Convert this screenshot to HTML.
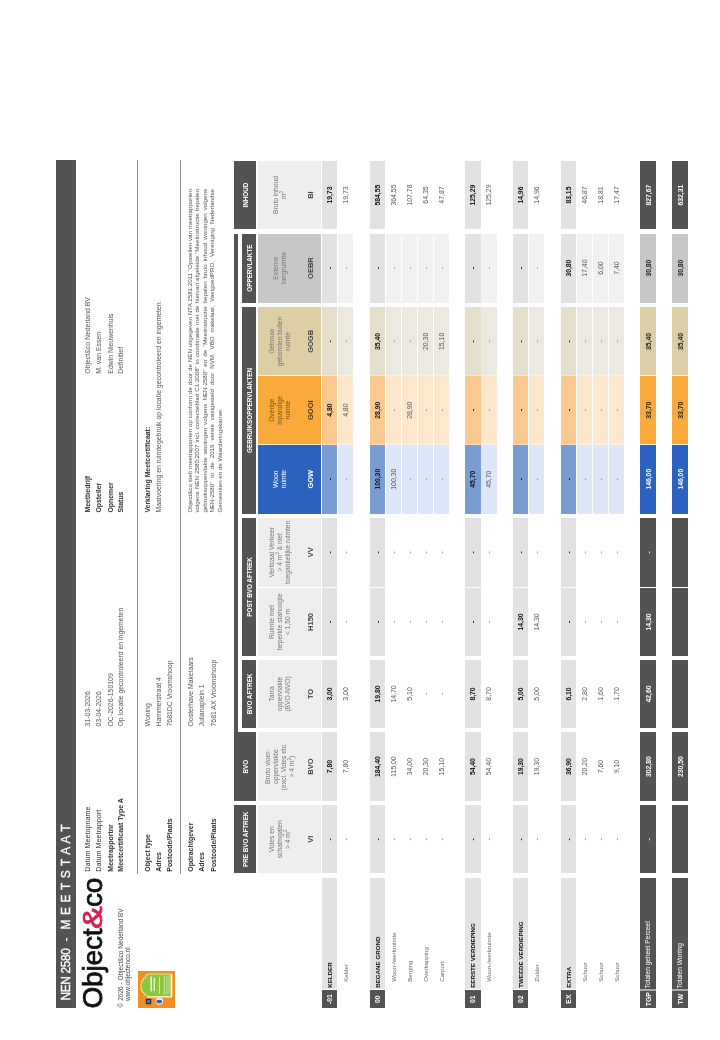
<!DOCTYPE html><html><head><meta charset="utf-8"><title>NEN 2580 - Meetstaat</title><style>
html,body{margin:0;padding:0;background:#fff;}
body{width:720px;height:1040px;overflow:hidden;position:relative;}
#page{position:absolute;left:0;top:0;width:1040px;height:720px;transform-origin:0 0;transform:translate(0,1040px) rotate(-90deg);will-change:transform;font-family:"Liberation Sans", Arial, sans-serif;color:#222;}
#page div{position:absolute;box-sizing:border-box;white-space:nowrap;}
.c{display:flex;align-items:center;justify-content:center;text-align:center;}
sup{font-size:4.5px;line-height:0;vertical-align:3px;}
.gh{color:#fff;font-weight:bold;font-size:6.3px;}
.desc{color:#777;font-size:6.7px;line-height:7.9px;white-space:normal !important;}
.code{font-weight:bold;font-size:7.5px;color:#444;}
.tv{font-weight:bold;font-size:6.8px;color:#111;}
.sv{font-size:6.9px;color:#555;}
.gv{font-weight:bold;font-size:6.8px;color:#fff;}
.lt{font-weight:bold;font-size:6.2px;color:#111;}
.ls{font-size:6.1px;color:#6a6a6a;}
.info{font-size:7px;color:#444;line-height:11px;}
.info b{color:#333;}
</style></head><body><div id="page">
<div style="left:32.00px;top:56.00px;width:848.00px;height:20.00px;background:#535353;"></div>
<div style="left:39.4px;top:56px;height:20px;line-height:21.6px;font-size:11.9px;color:#fff;-webkit-text-stroke:0.3px #fff;letter-spacing:-0.35px;">NEN 2580</div>
<div style="left:98.6px;top:56px;height:20px;line-height:21.6px;font-size:11.9px;color:#fff;-webkit-text-stroke:0.3px #fff;">-</div>
<div style="left:110.4px;top:56px;height:20px;line-height:21.6px;font-size:11.9px;color:#fff;-webkit-text-stroke:0.3px #fff;letter-spacing:0.69px;">M E E T S T A A T</div>
<div style="left:31.4px;top:76px;font-size:28px;line-height:34px;letter-spacing:-0.15px;color:#111;-webkit-text-stroke:0.75px #111;">Object<span style="display:inline-block;transform:scaleX(1.22);margin:0 1.4px 0 1.6px;color:#d3204f;-webkit-text-stroke:0.75px #d3204f;">&amp;</span>co</div>
<div style="left:32.6px;top:116.9px;font-size:6.5px;line-height:7.5px;color:#444;">&copy; 2026 - Object&amp;co Nederland BV<br><span style="padding-left:6.4px">www.objectenco.nl</span></div>
<div style="left:32.3px;top:138.0px;width:37px;height:36.7px;background:#ef9020;overflow:hidden;"><svg width="37" height="36.7" viewBox="0 0 37 36.7" style="position:absolute;left:0;top:0"><g transform="matrix(0,1,-1,0,37,0)"><path d="M9.5 2.6 L33.4 2.6 L33.4 26.2 L9.5 26.2 L8.2 24.6 L6.6 24.2 L5.6 22.2 L4.0 21.4 L3.6 19.3 L2.2 18.0 L3.2 16.0 L2.0 14.2 L3.4 12.4 L3.0 10.4 L4.6 9.4 L5.0 7.2 L6.8 6.6 L7.6 4.4 Z" fill="#fbe7a1"/><path d="M10.0 3.4 L32.4 3.4 L32.4 25.2 L10.0 25.2 L8.6 23.8 L7.0 23.2 L6.2 21.4 L4.7 20.6 L4.4 18.8 L3.2 17.8 L4.1 15.9 L3.1 14.2 L4.3 12.6 L4.0 10.8 L5.4 9.9 L5.8 7.9 L7.4 7.3 L8.3 5.2 Z" fill="#8cc63e"/><rect x="33.0" y="3" width="1.3" height="23" fill="#f4f8e8"/><rect x="9" y="25.3" width="25" height="1.2" fill="#f6f0d8"/><rect x="12.4" y="5.5" width="1.6" height="15" fill="#e4f3cc"/><rect x="15.6" y="7" width="1.4" height="13" fill="#e4f3cc"/><rect x="21.0" y="6" width="1.0" height="17" fill="#cfeaa8"/><rect x="25.8" y="4.5" width="0.9" height="19" fill="#cfeaa8"/><rect x="28.4" y="4.5" width="0.9" height="19" fill="#cfeaa8"/><rect x="30.6" y="4.5" width="0.8" height="19" fill="#cfeaa8"/><rect x="7.8" y="27.8" width="5.4" height="5.4" fill="#1f2f52"/><rect x="9.0" y="29.0" width="3.0" height="3.0" fill="#4a74b0"/><ellipse cx="21.3" cy="30.2" rx="3.9" ry="3.4" fill="#eef2f7"/><ellipse cx="21.3" cy="30.6" rx="3.0" ry="1.8" fill="#2f64a6"/></g></svg></div>
<div style="left:168.3px;top:82.30px;line-height:11px;font-size:7.2px;font-weight:normal;color:#333;">Datum Meetopname</div>
<div style="left:168.3px;top:93.00px;line-height:11px;font-size:7.2px;font-weight:normal;color:#333;">Datum Meetrapport</div>
<div style="left:168.3px;top:104.60px;line-height:11px;font-size:7.0px;font-weight:bold;color:#333;">Meetrapportnr</div>
<div style="left:168.3px;top:115.40px;line-height:11px;font-size:7.0px;font-weight:bold;color:#333;">Meetcertificaat Type A</div>
<div style="left:313.5px;top:82.30px;line-height:11px;font-size:6.9px;font-weight:normal;color:#555;">31-03-2026</div>
<div style="left:313.5px;top:93.00px;line-height:11px;font-size:6.9px;font-weight:normal;color:#555;">03-04-2026</div>
<div style="left:313.5px;top:104.60px;line-height:11px;font-size:6.9px;font-weight:normal;color:#555;">OC-2026-150109</div>
<div style="left:313.5px;top:115.40px;line-height:11px;font-size:6.9px;font-weight:normal;color:#555;">Op locatie gecontroleerd en ingemeten</div>
<div style="left:527.4px;top:82.30px;line-height:11px;font-size:6.9px;font-weight:bold;color:#333;">Meetbedrijf</div>
<div style="left:527.4px;top:93.00px;line-height:11px;font-size:6.9px;font-weight:bold;color:#333;">Opsteller</div>
<div style="left:527.4px;top:104.60px;line-height:11px;font-size:6.9px;font-weight:bold;color:#333;">Opnemer</div>
<div style="left:527.4px;top:115.40px;line-height:11px;font-size:6.9px;font-weight:bold;color:#333;">Status</div>
<div style="left:666.3px;top:82.30px;line-height:11px;font-size:6.9px;font-weight:normal;color:#555;">Object&amp;co Nederland BV</div>
<div style="left:666.3px;top:93.00px;line-height:11px;font-size:6.9px;font-weight:normal;color:#555;">M. van Essen</div>
<div style="left:666.3px;top:104.60px;line-height:11px;font-size:6.9px;font-weight:normal;color:#555;">Edwin Nieuwenhuis</div>
<div style="left:666.3px;top:115.40px;line-height:11px;font-size:6.9px;font-weight:normal;color:#555;">Definitief</div>
<div style="left:166.00px;top:136.90px;width:714.00px;height:1.00px;background:#8a8a8a;"></div>
<div style="left:168.3px;top:142.10px;line-height:11px;font-size:6.9px;font-weight:bold;color:#333;">Object type</div>
<div style="left:168.3px;top:153.00px;line-height:11px;font-size:6.9px;font-weight:bold;color:#333;">Adres</div>
<div style="left:168.3px;top:164.20px;line-height:11px;font-size:6.9px;font-weight:bold;color:#333;">Postcode/Plaats</div>
<div style="left:313.5px;top:142.10px;line-height:11px;font-size:6.9px;font-weight:normal;color:#555;">Woning</div>
<div style="left:313.5px;top:153.00px;line-height:11px;font-size:6.9px;font-weight:normal;color:#555;">Hammerstraat 4</div>
<div style="left:313.5px;top:164.20px;line-height:11px;font-size:6.9px;font-weight:normal;color:#555;">7681DC Vroomshoop</div>
<div style="left:527.4px;top:142.10px;line-height:11px;font-size:6.9px;font-weight:bold;color:#333;">Verklaring Meetcertificaat:</div>
<div style="left:527.4px;top:153.00px;line-height:11px;font-size:6.9px;font-weight:normal;color:#555;">Maatvoering en ruimtegebruik op locatie gecontroleerd en ingemeten.</div>
<div style="left:166.00px;top:179.60px;width:714.00px;height:1.00px;background:#8a8a8a;"></div>
<div style="left:168.3px;top:184.80px;line-height:11px;font-size:6.9px;font-weight:bold;color:#333;">Opdrachtgever</div>
<div style="left:168.3px;top:196.10px;line-height:11px;font-size:6.9px;font-weight:bold;color:#333;">Adres</div>
<div style="left:168.3px;top:207.50px;line-height:11px;font-size:6.9px;font-weight:bold;color:#333;">Postcode/Plaats</div>
<div style="left:313.5px;top:184.80px;line-height:11px;font-size:6.9px;font-weight:normal;color:#555;">Oosterhave Makelaars</div>
<div style="left:313.5px;top:196.10px;line-height:11px;font-size:6.9px;font-weight:normal;color:#555;">Julianaplein 1</div>
<div style="left:313.5px;top:207.50px;line-height:11px;font-size:6.9px;font-weight:normal;color:#555;">7681 AX Vroomshoop</div>
<div style="left:527.4px;top:185.75px;width:323.6px;white-space:normal;text-align:justify;text-align-last:justify;font-size:6.18px;line-height:7.5px;color:#555;">Object&amp;co stelt meetrapporten op conform de door de NEN uitgegeven NTA 2581:2011 &ldquo;Opstellen van meetrapporten</div>
<div style="left:527.4px;top:193.25px;width:323.6px;white-space:normal;text-align:justify;text-align-last:justify;font-size:6.18px;line-height:7.5px;color:#555;">volgens NEN 2580:2007 incl. correctieblad C1:2008&rdquo; in combinatie met de hiervan afgeleide &ldquo;Meetinstructie bepalen</div>
<div style="left:527.4px;top:200.75px;width:323.6px;white-space:normal;text-align:justify;text-align-last:justify;font-size:6.18px;line-height:7.5px;color:#555;">gebruiksoppervlakte woningen volgens NEN-2580&rdquo; en de &ldquo;Meetinstructie bepalen bruto inhoud woningen volgens</div>
<div style="left:527.4px;top:208.25px;width:323.6px;white-space:normal;text-align:justify;text-align-last:justify;font-size:6.18px;line-height:7.5px;color:#555;">NEN-2580&rdquo; in de 2019 versie vastgesteld door NVM, VBO makelaar, VastgoedPRO, Vereniging Nederlandse</div>
<div style="left:527.4px;top:215.75px;width:323.6px;white-space:normal;text-align:justify;text-align-last:left;font-size:6.18px;line-height:7.5px;color:#555;">Gemeenten en de Waarderingskamer.</div>
<div style="left:239.20px;top:234.00px;width:567.30px;height:4.00px;background:#535353;"></div>
<div class="c gh" style="left:166.50px;top:234.00px;width:68.40px;height:22.00px;background:#535353;"><span>PRE BVO AFTREK</span></div>
<div class="c gh" style="left:239.20px;top:234.00px;width:68.40px;height:22.00px;background:#535353;"><span>BVO</span></div>
<div class="c gh" style="left:312.10px;top:242.00px;width:67.90px;height:14.00px;background:#535353;"><span>BVO AFTREK</span></div>
<div class="c gh" style="left:384.20px;top:242.00px;width:137.80px;height:14.00px;background:#535353;"><span>POST BVO AFTREK</span></div>
<div class="c gh" style="left:526.20px;top:242.00px;width:206.70px;height:14.00px;background:#535353;"><span>GEBRUIKSOPPERVLAKTEN</span></div>
<div class="c gh" style="left:737.30px;top:242.00px;width:69.20px;height:14.00px;background:#535353;"><span>OPPERVLAKTE</span></div>
<div class="c gh" style="left:810.70px;top:234.00px;width:68.50px;height:22.00px;background:#535353;"><span>INHOUD</span></div>
<div style="left:166.50px;top:257.60px;width:68.40px;height:63.30px;background:#eeeeee;"></div>
<div class="c desc" style="left:166.50px;top:259.70px;width:68.40px;height:40.00px;color:#777;"><span>Vides en<br>schalmgaten<br>&gt; 4 m<sup>2</sup></span></div>
<div class="c code" style="left:166.50px;top:302.60px;width:68.40px;height:16.00px;color:#444;"><span>VI</span></div>
<div style="left:239.20px;top:257.60px;width:68.40px;height:63.30px;background:#eeeeee;"></div>
<div class="c desc" style="left:239.20px;top:259.70px;width:68.40px;height:40.00px;color:#777;"><span>Bruto vloer-<br>oppervlakte<br>(excl. Vides etc.<br>&gt; 4 m<sup>2</sup>)</span></div>
<div class="c code" style="left:239.20px;top:302.60px;width:68.40px;height:16.00px;color:#444;"><span>BVO</span></div>
<div style="left:312.10px;top:257.60px;width:67.90px;height:63.30px;background:#eeeeee;"></div>
<div class="c desc" style="left:312.10px;top:259.70px;width:67.90px;height:40.00px;color:#777;"><span>Tarra<br>oppervlakte<br>(BVO-NVO)</span></div>
<div class="c code" style="left:312.10px;top:302.60px;width:67.90px;height:16.00px;color:#444;"><span>TO</span></div>
<div style="left:384.20px;top:257.60px;width:67.70px;height:63.30px;background:#eeeeee;"></div>
<div class="c desc" style="left:384.20px;top:259.70px;width:67.70px;height:40.00px;color:#777;"><span>Ruimte met<br>beperkte stahoogte<br>&lt; 1,50 m</span></div>
<div class="c code" style="left:384.20px;top:302.60px;width:67.70px;height:16.00px;color:#444;"><span>H150</span></div>
<div style="left:453.40px;top:257.60px;width:68.60px;height:63.30px;background:#eeeeee;"></div>
<div class="c desc" style="left:453.40px;top:259.70px;width:68.60px;height:40.00px;color:#777;"><span>Verticaal Verkeer<br>&gt; 4 m<sup>2</sup> &amp; niet<br>toegankelijke ruimten</span></div>
<div class="c code" style="left:453.40px;top:302.60px;width:68.60px;height:16.00px;color:#444;"><span>VV</span></div>
<div style="left:526.20px;top:257.60px;width:69.20px;height:63.30px;background:#2b62bf;"></div>
<div class="c desc" style="left:526.20px;top:259.70px;width:69.20px;height:40.00px;color:#fff;"><span>Woon<br>ruimte</span></div>
<div class="c code" style="left:526.20px;top:302.60px;width:69.20px;height:16.00px;color:#fff;"><span>GOW</span></div>
<div style="left:595.40px;top:257.60px;width:68.90px;height:63.30px;background:#faa93b;"></div>
<div class="c desc" style="left:595.40px;top:259.70px;width:68.90px;height:40.00px;color:#7d5418;"><span>Overige<br>inpandige<br>ruimte</span></div>
<div class="c code" style="left:595.40px;top:302.60px;width:68.90px;height:16.00px;color:#4a3218;"><span>GOOI</span></div>
<div style="left:664.30px;top:257.60px;width:68.60px;height:63.30px;background:#dccfa6;"></div>
<div class="c desc" style="left:664.30px;top:259.70px;width:68.60px;height:40.00px;color:#777;"><span>Gebouw<br>gebonden buiten<br>ruimte</span></div>
<div class="c code" style="left:664.30px;top:302.60px;width:68.60px;height:16.00px;color:#444;"><span>GOGB</span></div>
<div style="left:737.30px;top:257.60px;width:69.20px;height:63.30px;background:#c7c7c7;"></div>
<div class="c desc" style="left:737.30px;top:259.70px;width:69.20px;height:40.00px;color:#777;"><span>Externe<br>bergruimte</span></div>
<div class="c code" style="left:737.30px;top:302.60px;width:69.20px;height:16.00px;color:#444;"><span>OEBR</span></div>
<div style="left:810.70px;top:257.60px;width:68.50px;height:63.30px;background:#eeeeee;"></div>
<div class="c desc" style="left:810.70px;top:259.70px;width:68.50px;height:40.00px;color:#777;"><span>Bruto inhoud<br>m<sup>3</sup></span></div>
<div class="c code" style="left:810.70px;top:302.60px;width:68.50px;height:16.00px;color:#444;"><span>BI</span></div>
<div style="left:594.90px;top:257.60px;width:1.10px;height:63.30px;background:rgba(255,255,255,0.75);"></div>
<div style="left:663.80px;top:257.60px;width:1.10px;height:63.30px;background:rgba(255,255,255,0.75);"></div>
<div class="c gv" style="left:32.20px;top:322.10px;width:17.40px;height:15.30px;background:#535353;"><span>-01</span></div>
<div style="left:51.00px;top:322.10px;width:111.20px;height:15.30px;background:#e2e2e2;"></div>
<div class="lt" style="left:52.2px;top:322.10px;line-height:15.3px;">KELDER</div>
<div class="c tv" style="left:166.50px;top:322.10px;width:68.40px;height:15.30px;background:#e2e2e2;"><span>-</span></div>
<div class="c tv" style="left:239.20px;top:322.10px;width:68.40px;height:15.30px;background:#e2e2e2;"><span>7,80</span></div>
<div class="c tv" style="left:312.10px;top:322.10px;width:67.90px;height:15.30px;background:#e2e2e2;"><span>3,00</span></div>
<div class="c tv" style="left:384.20px;top:322.10px;width:67.70px;height:15.30px;background:#e2e2e2;"><span>-</span></div>
<div class="c tv" style="left:453.40px;top:322.10px;width:68.60px;height:15.30px;background:#e2e2e2;"><span>-</span></div>
<div class="c tv" style="left:526.20px;top:322.10px;width:69.20px;height:15.30px;background:#7b9cd3;"><span>-</span></div>
<div class="c tv" style="left:595.40px;top:322.10px;width:68.90px;height:15.30px;background:#f9c98f;"><span>4,80</span></div>
<div style="left:595.10px;top:322.10px;width:0.60px;height:15.30px;background:rgba(255,255,255,0.35);"></div>
<div class="c tv" style="left:664.30px;top:322.10px;width:68.60px;height:15.30px;background:#e6dfcb;"><span>-</span></div>
<div style="left:664.00px;top:322.10px;width:0.60px;height:15.30px;background:rgba(255,255,255,0.35);"></div>
<div class="c tv" style="left:737.30px;top:322.10px;width:69.20px;height:15.30px;background:#e2e2e2;"><span>-</span></div>
<div class="c tv" style="left:810.70px;top:322.10px;width:68.50px;height:15.30px;background:#e2e2e2;"><span>19,73</span></div>
<div class="ls" style="left:58.3px;top:338.01px;line-height:15.3px;">Kelder</div>
<div class="c sv" style="left:166.50px;top:338.01px;width:68.40px;height:15.30px;"><span>-</span></div>
<div class="c sv" style="left:239.20px;top:338.01px;width:68.40px;height:15.30px;"><span>7,80</span></div>
<div class="c sv" style="left:312.10px;top:338.01px;width:67.90px;height:15.30px;"><span>3,00</span></div>
<div class="c sv" style="left:384.20px;top:338.01px;width:67.70px;height:15.30px;"><span>-</span></div>
<div class="c sv" style="left:453.40px;top:338.01px;width:68.60px;height:15.30px;"><span>-</span></div>
<div class="c sv" style="left:526.20px;top:338.01px;width:69.20px;height:15.30px;background:#dde7f7;"><span>-</span></div>
<div class="c sv" style="left:595.40px;top:338.01px;width:68.90px;height:15.30px;background:#fde8cd;"><span>4,80</span></div>
<div style="left:595.10px;top:338.01px;width:0.60px;height:15.30px;background:rgba(255,255,255,0.35);"></div>
<div class="c sv" style="left:664.30px;top:338.01px;width:68.60px;height:15.30px;background:#ece9e1;"><span>-</span></div>
<div style="left:664.00px;top:338.01px;width:0.60px;height:15.30px;background:rgba(255,255,255,0.35);"></div>
<div class="c sv" style="left:737.30px;top:338.01px;width:69.20px;height:15.30px;background:#f1f1f1;"><span>-</span></div>
<div class="c sv" style="left:810.70px;top:338.01px;width:68.50px;height:15.30px;"><span>19,73</span></div>
<div class="c gv" style="left:32.20px;top:369.84px;width:17.40px;height:15.30px;background:#535353;"><span>00</span></div>
<div style="left:51.00px;top:369.84px;width:111.20px;height:15.30px;background:#e2e2e2;"></div>
<div class="lt" style="left:52.2px;top:369.84px;line-height:15.3px;">BEGANE GROND</div>
<div class="c tv" style="left:166.50px;top:369.84px;width:68.40px;height:15.30px;background:#e2e2e2;"><span>-</span></div>
<div class="c tv" style="left:239.20px;top:369.84px;width:68.40px;height:15.30px;background:#e2e2e2;"><span>184,40</span></div>
<div class="c tv" style="left:312.10px;top:369.84px;width:67.90px;height:15.30px;background:#e2e2e2;"><span>19,80</span></div>
<div class="c tv" style="left:384.20px;top:369.84px;width:67.70px;height:15.30px;background:#e2e2e2;"><span>-</span></div>
<div class="c tv" style="left:453.40px;top:369.84px;width:68.60px;height:15.30px;background:#e2e2e2;"><span>-</span></div>
<div class="c tv" style="left:526.20px;top:369.84px;width:69.20px;height:15.30px;background:#7b9cd3;"><span>100,30</span></div>
<div class="c tv" style="left:595.40px;top:369.84px;width:68.90px;height:15.30px;background:#f9c98f;"><span>28,90</span></div>
<div style="left:595.10px;top:369.84px;width:0.60px;height:15.30px;background:rgba(255,255,255,0.35);"></div>
<div class="c tv" style="left:664.30px;top:369.84px;width:68.60px;height:15.30px;background:#e6dfcb;"><span>35,40</span></div>
<div style="left:664.00px;top:369.84px;width:0.60px;height:15.30px;background:rgba(255,255,255,0.35);"></div>
<div class="c tv" style="left:737.30px;top:369.84px;width:69.20px;height:15.30px;background:#e2e2e2;"><span>-</span></div>
<div class="c tv" style="left:810.70px;top:369.84px;width:68.50px;height:15.30px;background:#e2e2e2;"><span>584,55</span></div>
<div class="ls" style="left:58.3px;top:385.76px;line-height:15.3px;">Woon-/werkruimte</div>
<div class="c sv" style="left:166.50px;top:385.76px;width:68.40px;height:15.30px;"><span>-</span></div>
<div class="c sv" style="left:239.20px;top:385.76px;width:68.40px;height:15.30px;"><span>115,00</span></div>
<div class="c sv" style="left:312.10px;top:385.76px;width:67.90px;height:15.30px;"><span>14,70</span></div>
<div class="c sv" style="left:384.20px;top:385.76px;width:67.70px;height:15.30px;"><span>-</span></div>
<div class="c sv" style="left:453.40px;top:385.76px;width:68.60px;height:15.30px;"><span>-</span></div>
<div class="c sv" style="left:526.20px;top:385.76px;width:69.20px;height:15.30px;background:#dde7f7;"><span>100,30</span></div>
<div class="c sv" style="left:595.40px;top:385.76px;width:68.90px;height:15.30px;background:#fde8cd;"><span>-</span></div>
<div style="left:595.10px;top:385.76px;width:0.60px;height:15.30px;background:rgba(255,255,255,0.35);"></div>
<div class="c sv" style="left:664.30px;top:385.76px;width:68.60px;height:15.30px;background:#ece9e1;"><span>-</span></div>
<div style="left:664.00px;top:385.76px;width:0.60px;height:15.30px;background:rgba(255,255,255,0.35);"></div>
<div class="c sv" style="left:737.30px;top:385.76px;width:69.20px;height:15.30px;background:#f1f1f1;"><span>-</span></div>
<div class="c sv" style="left:810.70px;top:385.76px;width:68.50px;height:15.30px;"><span>364,55</span></div>
<div class="ls" style="left:58.3px;top:401.67px;line-height:15.3px;">Berging</div>
<div class="c sv" style="left:166.50px;top:401.67px;width:68.40px;height:15.30px;"><span>-</span></div>
<div class="c sv" style="left:239.20px;top:401.67px;width:68.40px;height:15.30px;"><span>34,00</span></div>
<div class="c sv" style="left:312.10px;top:401.67px;width:67.90px;height:15.30px;"><span>5,10</span></div>
<div class="c sv" style="left:384.20px;top:401.67px;width:67.70px;height:15.30px;"><span>-</span></div>
<div class="c sv" style="left:453.40px;top:401.67px;width:68.60px;height:15.30px;"><span>-</span></div>
<div class="c sv" style="left:526.20px;top:401.67px;width:69.20px;height:15.30px;background:#dde7f7;"><span>-</span></div>
<div class="c sv" style="left:595.40px;top:401.67px;width:68.90px;height:15.30px;background:#fde8cd;"><span>28,90</span></div>
<div style="left:595.10px;top:401.67px;width:0.60px;height:15.30px;background:rgba(255,255,255,0.35);"></div>
<div class="c sv" style="left:664.30px;top:401.67px;width:68.60px;height:15.30px;background:#ece9e1;"><span>-</span></div>
<div style="left:664.00px;top:401.67px;width:0.60px;height:15.30px;background:rgba(255,255,255,0.35);"></div>
<div class="c sv" style="left:737.30px;top:401.67px;width:69.20px;height:15.30px;background:#f1f1f1;"><span>-</span></div>
<div class="c sv" style="left:810.70px;top:401.67px;width:68.50px;height:15.30px;"><span>107,78</span></div>
<div class="ls" style="left:58.3px;top:417.58px;line-height:15.3px;">Overkapping</div>
<div class="c sv" style="left:166.50px;top:417.58px;width:68.40px;height:15.30px;"><span>-</span></div>
<div class="c sv" style="left:239.20px;top:417.58px;width:68.40px;height:15.30px;"><span>20,30</span></div>
<div class="c sv" style="left:312.10px;top:417.58px;width:67.90px;height:15.30px;"><span>-</span></div>
<div class="c sv" style="left:384.20px;top:417.58px;width:67.70px;height:15.30px;"><span>-</span></div>
<div class="c sv" style="left:453.40px;top:417.58px;width:68.60px;height:15.30px;"><span>-</span></div>
<div class="c sv" style="left:526.20px;top:417.58px;width:69.20px;height:15.30px;background:#dde7f7;"><span>-</span></div>
<div class="c sv" style="left:595.40px;top:417.58px;width:68.90px;height:15.30px;background:#fde8cd;"><span>-</span></div>
<div style="left:595.10px;top:417.58px;width:0.60px;height:15.30px;background:rgba(255,255,255,0.35);"></div>
<div class="c sv" style="left:664.30px;top:417.58px;width:68.60px;height:15.30px;background:#ece9e1;"><span>20,30</span></div>
<div style="left:664.00px;top:417.58px;width:0.60px;height:15.30px;background:rgba(255,255,255,0.35);"></div>
<div class="c sv" style="left:737.30px;top:417.58px;width:69.20px;height:15.30px;background:#f1f1f1;"><span>-</span></div>
<div class="c sv" style="left:810.70px;top:417.58px;width:68.50px;height:15.30px;"><span>64,35</span></div>
<div class="ls" style="left:58.3px;top:433.50px;line-height:15.3px;">Carport</div>
<div class="c sv" style="left:166.50px;top:433.50px;width:68.40px;height:15.30px;"><span>-</span></div>
<div class="c sv" style="left:239.20px;top:433.50px;width:68.40px;height:15.30px;"><span>15,10</span></div>
<div class="c sv" style="left:312.10px;top:433.50px;width:67.90px;height:15.30px;"><span>-</span></div>
<div class="c sv" style="left:384.20px;top:433.50px;width:67.70px;height:15.30px;"><span>-</span></div>
<div class="c sv" style="left:453.40px;top:433.50px;width:68.60px;height:15.30px;"><span>-</span></div>
<div class="c sv" style="left:526.20px;top:433.50px;width:69.20px;height:15.30px;background:#dde7f7;"><span>-</span></div>
<div class="c sv" style="left:595.40px;top:433.50px;width:68.90px;height:15.30px;background:#fde8cd;"><span>-</span></div>
<div style="left:595.10px;top:433.50px;width:0.60px;height:15.30px;background:rgba(255,255,255,0.35);"></div>
<div class="c sv" style="left:664.30px;top:433.50px;width:68.60px;height:15.30px;background:#ece9e1;"><span>15,10</span></div>
<div style="left:664.00px;top:433.50px;width:0.60px;height:15.30px;background:rgba(255,255,255,0.35);"></div>
<div class="c sv" style="left:737.30px;top:433.50px;width:69.20px;height:15.30px;background:#f1f1f1;"><span>-</span></div>
<div class="c sv" style="left:810.70px;top:433.50px;width:68.50px;height:15.30px;"><span>47,87</span></div>
<div class="c gv" style="left:32.20px;top:465.33px;width:17.40px;height:15.30px;background:#535353;"><span>01</span></div>
<div style="left:51.00px;top:465.33px;width:111.20px;height:15.30px;background:#e2e2e2;"></div>
<div class="lt" style="left:52.2px;top:465.33px;line-height:15.3px;">EERSTE VERDIEPING</div>
<div class="c tv" style="left:166.50px;top:465.33px;width:68.40px;height:15.30px;background:#e2e2e2;"><span>-</span></div>
<div class="c tv" style="left:239.20px;top:465.33px;width:68.40px;height:15.30px;background:#e2e2e2;"><span>54,40</span></div>
<div class="c tv" style="left:312.10px;top:465.33px;width:67.90px;height:15.30px;background:#e2e2e2;"><span>8,70</span></div>
<div class="c tv" style="left:384.20px;top:465.33px;width:67.70px;height:15.30px;background:#e2e2e2;"><span>-</span></div>
<div class="c tv" style="left:453.40px;top:465.33px;width:68.60px;height:15.30px;background:#e2e2e2;"><span>-</span></div>
<div class="c tv" style="left:526.20px;top:465.33px;width:69.20px;height:15.30px;background:#7b9cd3;"><span>45,70</span></div>
<div class="c tv" style="left:595.40px;top:465.33px;width:68.90px;height:15.30px;background:#f9c98f;"><span>-</span></div>
<div style="left:595.10px;top:465.33px;width:0.60px;height:15.30px;background:rgba(255,255,255,0.35);"></div>
<div class="c tv" style="left:664.30px;top:465.33px;width:68.60px;height:15.30px;background:#e6dfcb;"><span>-</span></div>
<div style="left:664.00px;top:465.33px;width:0.60px;height:15.30px;background:rgba(255,255,255,0.35);"></div>
<div class="c tv" style="left:737.30px;top:465.33px;width:69.20px;height:15.30px;background:#e2e2e2;"><span>-</span></div>
<div class="c tv" style="left:810.70px;top:465.33px;width:68.50px;height:15.30px;background:#e2e2e2;"><span>125,29</span></div>
<div class="ls" style="left:58.3px;top:481.24px;line-height:15.3px;">Woon-/werkruimte</div>
<div class="c sv" style="left:166.50px;top:481.24px;width:68.40px;height:15.30px;"><span>-</span></div>
<div class="c sv" style="left:239.20px;top:481.24px;width:68.40px;height:15.30px;"><span>54,40</span></div>
<div class="c sv" style="left:312.10px;top:481.24px;width:67.90px;height:15.30px;"><span>8,70</span></div>
<div class="c sv" style="left:384.20px;top:481.24px;width:67.70px;height:15.30px;"><span>-</span></div>
<div class="c sv" style="left:453.40px;top:481.24px;width:68.60px;height:15.30px;"><span>-</span></div>
<div class="c sv" style="left:526.20px;top:481.24px;width:69.20px;height:15.30px;background:#dde7f7;"><span>45,70</span></div>
<div class="c sv" style="left:595.40px;top:481.24px;width:68.90px;height:15.30px;background:#fde8cd;"><span>-</span></div>
<div style="left:595.10px;top:481.24px;width:0.60px;height:15.30px;background:rgba(255,255,255,0.35);"></div>
<div class="c sv" style="left:664.30px;top:481.24px;width:68.60px;height:15.30px;background:#ece9e1;"><span>-</span></div>
<div style="left:664.00px;top:481.24px;width:0.60px;height:15.30px;background:rgba(255,255,255,0.35);"></div>
<div class="c sv" style="left:737.30px;top:481.24px;width:69.20px;height:15.30px;background:#f1f1f1;"><span>-</span></div>
<div class="c sv" style="left:810.70px;top:481.24px;width:68.50px;height:15.30px;"><span>125,29</span></div>
<div class="c gv" style="left:32.20px;top:513.07px;width:17.40px;height:15.30px;background:#535353;"><span>02</span></div>
<div style="left:51.00px;top:513.07px;width:111.20px;height:15.30px;background:#e2e2e2;"></div>
<div class="lt" style="left:52.2px;top:513.07px;line-height:15.3px;">TWEEDE VERDIEPING</div>
<div class="c tv" style="left:166.50px;top:513.07px;width:68.40px;height:15.30px;background:#e2e2e2;"><span>-</span></div>
<div class="c tv" style="left:239.20px;top:513.07px;width:68.40px;height:15.30px;background:#e2e2e2;"><span>19,30</span></div>
<div class="c tv" style="left:312.10px;top:513.07px;width:67.90px;height:15.30px;background:#e2e2e2;"><span>5,00</span></div>
<div class="c tv" style="left:384.20px;top:513.07px;width:67.70px;height:15.30px;background:#e2e2e2;"><span>14,30</span></div>
<div class="c tv" style="left:453.40px;top:513.07px;width:68.60px;height:15.30px;background:#e2e2e2;"><span>-</span></div>
<div class="c tv" style="left:526.20px;top:513.07px;width:69.20px;height:15.30px;background:#7b9cd3;"><span>-</span></div>
<div class="c tv" style="left:595.40px;top:513.07px;width:68.90px;height:15.30px;background:#f9c98f;"><span>-</span></div>
<div style="left:595.10px;top:513.07px;width:0.60px;height:15.30px;background:rgba(255,255,255,0.35);"></div>
<div class="c tv" style="left:664.30px;top:513.07px;width:68.60px;height:15.30px;background:#e6dfcb;"><span>-</span></div>
<div style="left:664.00px;top:513.07px;width:0.60px;height:15.30px;background:rgba(255,255,255,0.35);"></div>
<div class="c tv" style="left:737.30px;top:513.07px;width:69.20px;height:15.30px;background:#e2e2e2;"><span>-</span></div>
<div class="c tv" style="left:810.70px;top:513.07px;width:68.50px;height:15.30px;background:#e2e2e2;"><span>14,96</span></div>
<div class="ls" style="left:58.3px;top:528.98px;line-height:15.3px;">Zolder</div>
<div class="c sv" style="left:166.50px;top:528.98px;width:68.40px;height:15.30px;"><span>-</span></div>
<div class="c sv" style="left:239.20px;top:528.98px;width:68.40px;height:15.30px;"><span>19,30</span></div>
<div class="c sv" style="left:312.10px;top:528.98px;width:67.90px;height:15.30px;"><span>5,00</span></div>
<div class="c sv" style="left:384.20px;top:528.98px;width:67.70px;height:15.30px;"><span>14,30</span></div>
<div class="c sv" style="left:453.40px;top:528.98px;width:68.60px;height:15.30px;"><span>-</span></div>
<div class="c sv" style="left:526.20px;top:528.98px;width:69.20px;height:15.30px;background:#dde7f7;"><span>-</span></div>
<div class="c sv" style="left:595.40px;top:528.98px;width:68.90px;height:15.30px;background:#fde8cd;"><span>-</span></div>
<div style="left:595.10px;top:528.98px;width:0.60px;height:15.30px;background:rgba(255,255,255,0.35);"></div>
<div class="c sv" style="left:664.30px;top:528.98px;width:68.60px;height:15.30px;background:#ece9e1;"><span>-</span></div>
<div style="left:664.00px;top:528.98px;width:0.60px;height:15.30px;background:rgba(255,255,255,0.35);"></div>
<div class="c sv" style="left:737.30px;top:528.98px;width:69.20px;height:15.30px;background:#f1f1f1;"><span>-</span></div>
<div class="c sv" style="left:810.70px;top:528.98px;width:68.50px;height:15.30px;"><span>14,96</span></div>
<div class="c gv" style="left:32.20px;top:560.81px;width:17.40px;height:15.30px;background:#535353;"><span>EX</span></div>
<div style="left:51.00px;top:560.81px;width:111.20px;height:15.30px;background:#e2e2e2;"></div>
<div class="lt" style="left:52.2px;top:560.81px;line-height:15.3px;">EXTRA</div>
<div class="c tv" style="left:166.50px;top:560.81px;width:68.40px;height:15.30px;background:#e2e2e2;"><span>-</span></div>
<div class="c tv" style="left:239.20px;top:560.81px;width:68.40px;height:15.30px;background:#e2e2e2;"><span>36,90</span></div>
<div class="c tv" style="left:312.10px;top:560.81px;width:67.90px;height:15.30px;background:#e2e2e2;"><span>6,10</span></div>
<div class="c tv" style="left:384.20px;top:560.81px;width:67.70px;height:15.30px;background:#e2e2e2;"><span>-</span></div>
<div class="c tv" style="left:453.40px;top:560.81px;width:68.60px;height:15.30px;background:#e2e2e2;"><span>-</span></div>
<div class="c tv" style="left:526.20px;top:560.81px;width:69.20px;height:15.30px;background:#7b9cd3;"><span>-</span></div>
<div class="c tv" style="left:595.40px;top:560.81px;width:68.90px;height:15.30px;background:#f9c98f;"><span>-</span></div>
<div style="left:595.10px;top:560.81px;width:0.60px;height:15.30px;background:rgba(255,255,255,0.35);"></div>
<div class="c tv" style="left:664.30px;top:560.81px;width:68.60px;height:15.30px;background:#e6dfcb;"><span>-</span></div>
<div style="left:664.00px;top:560.81px;width:0.60px;height:15.30px;background:rgba(255,255,255,0.35);"></div>
<div class="c tv" style="left:737.30px;top:560.81px;width:69.20px;height:15.30px;background:#e2e2e2;"><span>30,80</span></div>
<div class="c tv" style="left:810.70px;top:560.81px;width:68.50px;height:15.30px;background:#e2e2e2;"><span>83,15</span></div>
<div class="ls" style="left:58.3px;top:576.72px;line-height:15.3px;">Schuur</div>
<div class="c sv" style="left:166.50px;top:576.72px;width:68.40px;height:15.30px;"><span>-</span></div>
<div class="c sv" style="left:239.20px;top:576.72px;width:68.40px;height:15.30px;"><span>20,20</span></div>
<div class="c sv" style="left:312.10px;top:576.72px;width:67.90px;height:15.30px;"><span>2,80</span></div>
<div class="c sv" style="left:384.20px;top:576.72px;width:67.70px;height:15.30px;"><span>-</span></div>
<div class="c sv" style="left:453.40px;top:576.72px;width:68.60px;height:15.30px;"><span>-</span></div>
<div class="c sv" style="left:526.20px;top:576.72px;width:69.20px;height:15.30px;background:#dde7f7;"><span>-</span></div>
<div class="c sv" style="left:595.40px;top:576.72px;width:68.90px;height:15.30px;background:#fde8cd;"><span>-</span></div>
<div style="left:595.10px;top:576.72px;width:0.60px;height:15.30px;background:rgba(255,255,255,0.35);"></div>
<div class="c sv" style="left:664.30px;top:576.72px;width:68.60px;height:15.30px;background:#ece9e1;"><span>-</span></div>
<div style="left:664.00px;top:576.72px;width:0.60px;height:15.30px;background:rgba(255,255,255,0.35);"></div>
<div class="c sv" style="left:737.30px;top:576.72px;width:69.20px;height:15.30px;background:#f1f1f1;"><span>17,40</span></div>
<div class="c sv" style="left:810.70px;top:576.72px;width:68.50px;height:15.30px;"><span>46,87</span></div>
<div class="ls" style="left:58.3px;top:592.64px;line-height:15.3px;">Schuur</div>
<div class="c sv" style="left:166.50px;top:592.64px;width:68.40px;height:15.30px;"><span>-</span></div>
<div class="c sv" style="left:239.20px;top:592.64px;width:68.40px;height:15.30px;"><span>7,60</span></div>
<div class="c sv" style="left:312.10px;top:592.64px;width:67.90px;height:15.30px;"><span>1,60</span></div>
<div class="c sv" style="left:384.20px;top:592.64px;width:67.70px;height:15.30px;"><span>-</span></div>
<div class="c sv" style="left:453.40px;top:592.64px;width:68.60px;height:15.30px;"><span>-</span></div>
<div class="c sv" style="left:526.20px;top:592.64px;width:69.20px;height:15.30px;background:#dde7f7;"><span>-</span></div>
<div class="c sv" style="left:595.40px;top:592.64px;width:68.90px;height:15.30px;background:#fde8cd;"><span>-</span></div>
<div style="left:595.10px;top:592.64px;width:0.60px;height:15.30px;background:rgba(255,255,255,0.35);"></div>
<div class="c sv" style="left:664.30px;top:592.64px;width:68.60px;height:15.30px;background:#ece9e1;"><span>-</span></div>
<div style="left:664.00px;top:592.64px;width:0.60px;height:15.30px;background:rgba(255,255,255,0.35);"></div>
<div class="c sv" style="left:737.30px;top:592.64px;width:69.20px;height:15.30px;background:#f1f1f1;"><span>6,00</span></div>
<div class="c sv" style="left:810.70px;top:592.64px;width:68.50px;height:15.30px;"><span>18,81</span></div>
<div class="ls" style="left:58.3px;top:608.55px;line-height:15.3px;">Schuur</div>
<div class="c sv" style="left:166.50px;top:608.55px;width:68.40px;height:15.30px;"><span>-</span></div>
<div class="c sv" style="left:239.20px;top:608.55px;width:68.40px;height:15.30px;"><span>9,10</span></div>
<div class="c sv" style="left:312.10px;top:608.55px;width:67.90px;height:15.30px;"><span>1,70</span></div>
<div class="c sv" style="left:384.20px;top:608.55px;width:67.70px;height:15.30px;"><span>-</span></div>
<div class="c sv" style="left:453.40px;top:608.55px;width:68.60px;height:15.30px;"><span>-</span></div>
<div class="c sv" style="left:526.20px;top:608.55px;width:69.20px;height:15.30px;background:#dde7f7;"><span>-</span></div>
<div class="c sv" style="left:595.40px;top:608.55px;width:68.90px;height:15.30px;background:#fde8cd;"><span>-</span></div>
<div style="left:595.10px;top:608.55px;width:0.60px;height:15.30px;background:rgba(255,255,255,0.35);"></div>
<div class="c sv" style="left:664.30px;top:608.55px;width:68.60px;height:15.30px;background:#ece9e1;"><span>-</span></div>
<div style="left:664.00px;top:608.55px;width:0.60px;height:15.30px;background:rgba(255,255,255,0.35);"></div>
<div class="c sv" style="left:737.30px;top:608.55px;width:69.20px;height:15.30px;background:#f1f1f1;"><span>7,40</span></div>
<div class="c sv" style="left:810.70px;top:608.55px;width:68.50px;height:15.30px;"><span>17,47</span></div>
<div class="c gv" style="left:32.20px;top:640.38px;width:17.20px;height:15.60px;background:#535353;"><span>TGP</span></div>
<div style="left:49.40px;top:640.38px;width:1.40px;height:15.60px;background:#a8a8a8;"></div>
<div style="left:50.80px;top:640.38px;width:111.40px;height:15.60px;background:#535353;"></div>
<div class="gv" style="left:51.6px;top:640.38px;line-height:15.3px;font-weight:normal;font-size:6.6px;">Totalen geheel Perceel</div>
<div class="c tv" style="left:166.50px;top:640.38px;width:68.40px;height:15.60px;background:#535353;color:#fff;"><span>-</span></div>
<div class="c tv" style="left:239.20px;top:640.38px;width:68.40px;height:15.60px;background:#535353;color:#fff;"><span>302,80</span></div>
<div class="c tv" style="left:312.10px;top:640.38px;width:67.90px;height:15.60px;background:#535353;color:#fff;"><span>42,60</span></div>
<div class="c tv" style="left:384.20px;top:640.38px;width:67.70px;height:15.60px;background:#535353;color:#fff;"><span>14,30</span></div>
<div class="c tv" style="left:453.40px;top:640.38px;width:68.60px;height:15.60px;background:#535353;color:#fff;"><span>-</span></div>
<div class="c tv" style="left:526.20px;top:640.38px;width:69.20px;height:15.60px;background:#2b62bf;color:#fff;"><span>146,00</span></div>
<div class="c tv" style="left:595.40px;top:640.38px;width:68.90px;height:15.60px;background:#faa93b;color:#222;"><span>33,70</span></div>
<div style="left:594.90px;top:640.38px;width:1.10px;height:15.60px;background:rgba(255,255,255,0.8);"></div>
<div class="c tv" style="left:664.30px;top:640.38px;width:68.60px;height:15.60px;background:#dccfa6;color:#222;"><span>35,40</span></div>
<div style="left:663.80px;top:640.38px;width:1.10px;height:15.60px;background:rgba(255,255,255,0.8);"></div>
<div class="c tv" style="left:737.30px;top:640.38px;width:69.20px;height:15.60px;background:#c7c7c7;color:#222;"><span>30,80</span></div>
<div class="c tv" style="left:810.70px;top:640.38px;width:68.50px;height:15.60px;background:#535353;color:#fff;"><span>827,67</span></div>
<div class="c gv" style="left:32.20px;top:672.21px;width:17.20px;height:15.60px;background:#535353;"><span>TW</span></div>
<div style="left:49.40px;top:672.21px;width:1.40px;height:15.60px;background:#a8a8a8;"></div>
<div style="left:50.80px;top:672.21px;width:111.40px;height:15.60px;background:#535353;"></div>
<div class="gv" style="left:51.6px;top:672.21px;line-height:15.3px;font-weight:normal;font-size:6.6px;">Totalen Woning</div>
<div class="c tv" style="left:166.50px;top:672.21px;width:68.40px;height:15.60px;background:#535353;color:#fff;"></div>
<div class="c tv" style="left:239.20px;top:672.21px;width:68.40px;height:15.60px;background:#535353;color:#fff;"><span>230,50</span></div>
<div class="c tv" style="left:312.10px;top:672.21px;width:67.90px;height:15.60px;background:#535353;color:#fff;"></div>
<div class="c tv" style="left:384.20px;top:672.21px;width:67.70px;height:15.60px;background:#535353;color:#fff;"></div>
<div class="c tv" style="left:453.40px;top:672.21px;width:68.60px;height:15.60px;background:#535353;color:#fff;"></div>
<div class="c tv" style="left:526.20px;top:672.21px;width:69.20px;height:15.60px;background:#2b62bf;color:#fff;"><span>146,00</span></div>
<div class="c tv" style="left:595.40px;top:672.21px;width:68.90px;height:15.60px;background:#faa93b;color:#222;"><span>33,70</span></div>
<div style="left:594.90px;top:672.21px;width:1.10px;height:15.60px;background:rgba(255,255,255,0.8);"></div>
<div class="c tv" style="left:664.30px;top:672.21px;width:68.60px;height:15.60px;background:#dccfa6;color:#222;"><span>35,40</span></div>
<div style="left:663.80px;top:672.21px;width:1.10px;height:15.60px;background:rgba(255,255,255,0.8);"></div>
<div class="c tv" style="left:737.30px;top:672.21px;width:69.20px;height:15.60px;background:#c7c7c7;color:#222;"><span>30,80</span></div>
<div class="c tv" style="left:810.70px;top:672.21px;width:68.50px;height:15.60px;background:#535353;color:#fff;"><span>632,31</span></div>
</div></body></html>
